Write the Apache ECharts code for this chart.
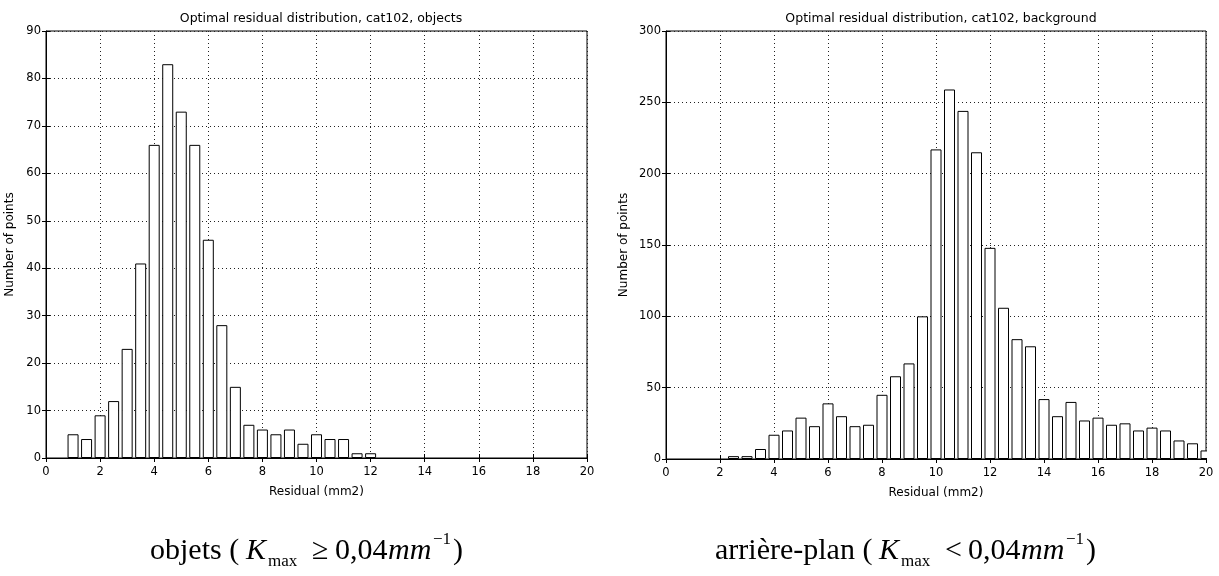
<!DOCTYPE html>
<html>
<head>
<meta charset="utf-8">
<script src="https://cdn.jsdelivr.net/npm/echarts@6/dist/echarts.min.js"></script>
<style>html,body{margin:0;padding:0;background:#fff;}#c{width:1219px;height:576px;}</style>
</head>
<body>
<div id="c"></div>
<script>
// Bin centres (mm2) and counts
const objCenters = [1, 1.5, 2, 2.5, 3, 3.5, 4, 4.5, 5, 5.5, 6, 6.5, 7, 7.5, 8, 8.5, 9, 9.5, 10, 10.5, 11, 11.5, 12];
const objCounts  = [5, 4, 9, 12, 23, 41, 66, 83, 73, 66, 46, 28, 15, 7, 6, 5, 6, 3, 5, 4, 4, 1, 1];

const bgCenters = [2.5, 3, 3.5, 4, 4.5, 5, 5.5, 6, 6.5, 7, 7.5, 8, 8.5, 9, 9.5, 10, 10.5, 11, 11.5, 12, 12.5, 13, 13.5, 14, 14.5, 15, 15.5, 16, 16.5, 17, 17.5, 18, 18.5, 19, 19.5, 20];
const bgCounts  = [2, 2, 7, 17, 20, 29, 23, 39, 30, 23, 24, 45, 58, 67, 100, 217, 259, 244, 215, 148, 106, 84, 79, 42, 30, 40, 27, 29, 24, 25, 20, 22, 20, 13, 11, 6];

const xTicks = { min: 0, max: 20, interval: 2 };
const yObj = { min: 0, max: 90, interval: 10 };
const yBg = { min: 0, max: 300, interval: 50 };

const titles = ['Optimal residual distribution, cat102, objects', 'Optimal residual distribution, cat102, background'];
const xName = 'Residual (mm2)';
const yName = 'Number of points';
const captionWords = ['objets (', 'arrière-plan ('];
const captionRel = ['≥', '<'];

const chart = echarts.init(document.getElementById('c'), null, { renderer: 'canvas' });
const SANS = '"DejaVu Sans", Verdana, sans-serif';
const SERIF = '"Liberation Serif", "Times New Roman", serif';
const grid = (i) => ({
  show: true, borderColor: '#000', borderWidth: 1, backgroundColor: 'transparent',
  ...(i === 0 ? { left: 46, right: 632, top: 31, bottom: 118 } : { left: 666, right: 13, top: 31, bottom: 117 })
});
const dotted = { show: true, lineStyle: { color: '#222', type: [1, 3], width: 1 } };
const tick = { show: true, inside: true, length: 4, lineStyle: { color: '#000' } };
const xAxis = (i) => ({
  type: 'value', gridIndex: i, min: xTicks.min, max: xTicks.max, interval: xTicks.interval,
  name: xName, nameLocation: 'middle', nameGap: 28,
  nameTextStyle: { fontFamily: SANS, fontSize: 12, color: '#000' },
  axisLine: { show: true, onZero: false, lineStyle: { color: '#000' } },
  axisTick: tick,
  axisLabel: { fontFamily: SANS, fontSize: 11.5, color: '#000', margin: 8 },
  splitLine: dotted
});
const xTop = (i) => ({
  type: 'value', gridIndex: i, position: 'top', min: xTicks.min, max: xTicks.max, interval: xTicks.interval,
  axisLine: { show: false }, axisTick: tick, axisLabel: { show: false }, splitLine: { show: false }
});
const yAxis = (i, r) => ({
  type: 'value', gridIndex: i, min: r.min, max: r.max, interval: r.interval,
  name: yName, nameLocation: 'middle', nameRotate: 90, nameGap: i === 0 ? 30 : 36,
  nameTextStyle: { fontFamily: SANS, fontSize: 12, color: '#000' },
  axisLine: { show: true, onZero: false, lineStyle: { color: '#000' } },
  axisTick: tick,
  axisLabel: { fontFamily: SANS, fontSize: 11.5, color: '#000', margin: 5 },
  splitLine: dotted
});
const yRight = (i, r) => ({
  type: 'value', gridIndex: i, position: 'right', min: r.min, max: r.max, interval: r.interval,
  axisLine: { show: false }, axisTick: tick, axisLabel: { show: false }, splitLine: { show: false }
});
const bars = (i, xs, ys) => ({
  type: 'bar', xAxisIndex: i, yAxisIndex: i, barWidth: 11, clip: true,
  data: xs.map((x, k) => [x, ys[k]]),
  itemStyle: { color: '#fff', borderColor: '#000', borderWidth: 1 },
  emphasis: { disabled: true }, animation: false
});
const capText = (x, y, text, size, italic) => ({
  type: 'text', x: x, y: y, z: 10,
  style: { text: text, fontFamily: SERIF, fontSize: size, fontStyle: italic ? 'italic' : 'normal',
           fill: '#000', verticalAlign: 'middle', align: 'left' }
});
const caption = (x0, k) => {
  const w = k === 0 ? 0 : 68; // extra width of the longer prefix
  const c = 551;
  return [
    capText(x0, c, captionWords[k], 30, false),
    capText(x0 + 96 + w, c, 'K', 30, true),
    capText(x0 + 118 + w, c + 11, 'max', 17, false),
    capText(x0 + 162 + w, c, captionRel[k], 30, false),
    capText(x0 + 185 + w, c, '0,04', 30, false),
    capText(x0 + 238 + w, c, 'mm', 30, true),
    capText(x0 + 283 + w, c - 11, '−1', 17, false),
    capText(x0 + 303 + w, c, ')', 30, false)
  ];
};
chart.setOption({
  animation: false,
  backgroundColor: '#fff',
  title: titles.map((t, i) => ({
    text: t, left: i === 0 ? 316 : 936, top: 7, textAlign: 'center',
    textStyle: { fontFamily: SANS, fontSize: 12.5, fontWeight: 'normal', color: '#000' }
  })),
  grid: [grid(0), grid(1)],
  xAxis: [xAxis(0), xAxis(1), xTop(0), xTop(1)],
  yAxis: [yAxis(0, yObj), yAxis(1, yBg), yRight(0, yObj), yRight(1, yBg)],
  series: [bars(0, objCenters, objCounts), bars(1, bgCenters, bgCounts)],
  graphic: [
    { type: 'rect', shape: { x: 1207, y: 300, width: 12, height: 165 }, style: { fill: '#fff' }, z: 50 },
    ...caption(150, 0),
    ...caption(715, 1)
  ]
});
</script>
</body>
</html>
